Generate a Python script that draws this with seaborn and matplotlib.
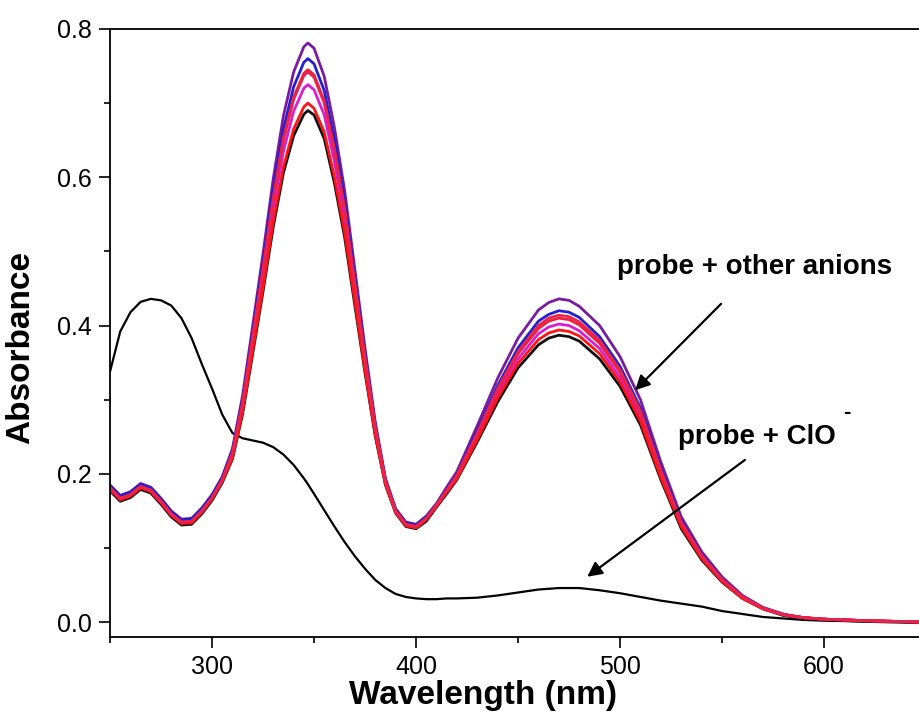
import pandas as pd
import matplotlib
matplotlib.use('Agg')
import matplotlib.pyplot as plt
from matplotlib.ticker import MultipleLocator
import seaborn as sns

# wavelength grid (nm) shared by all spectra
wavelength = [250, 255, 260, 265, 270, 275, 280, 285, 290, 295, 300, 305, 310, 315, 320, 325,
              330, 335, 340, 345, 347, 350, 355, 360, 365, 370, 375, 380, 385, 390, 395, 400,
              405, 410, 415, 420, 430, 440, 450, 460, 465, 470, 475, 480, 490, 500, 510, 520,
              530, 540, 550, 560, 570, 580, 590, 600, 620, 650]

# probe + ClO- (black curve)
abs_clo = [0.338, 0.392, 0.418, 0.432, 0.436, 0.434, 0.427, 0.410, 0.383, 0.348, 0.315, 0.280,
           0.255, 0.248, 0.245, 0.242, 0.236, 0.226, 0.212, 0.194, 0.186, 0.173, 0.151, 0.129,
           0.108, 0.089, 0.072, 0.057, 0.046, 0.038, 0.034, 0.032, 0.031, 0.031, 0.032, 0.032,
           0.033, 0.036, 0.040, 0.044, 0.045, 0.046, 0.046, 0.046, 0.043, 0.039, 0.034, 0.029,
           0.025, 0.021, 0.015, 0.011, 0.007, 0.005, 0.003, 0.002, 0.001, 0.000]

# probe + other anions (one list per spectrum)
abs_purple = [0.185, 0.171, 0.176, 0.187, 0.182, 0.167, 0.150, 0.139, 0.140, 0.154, 0.172, 0.196,
              0.234, 0.306, 0.401, 0.497, 0.598, 0.683, 0.742, 0.776, 0.781, 0.774, 0.736, 0.667,
              0.582, 0.476, 0.369, 0.270, 0.194, 0.153, 0.135, 0.132, 0.143, 0.160, 0.182, 0.203,
              0.265, 0.329, 0.383, 0.421, 0.431, 0.436, 0.434, 0.426, 0.400, 0.358, 0.300, 0.216,
              0.142, 0.095, 0.061, 0.036, 0.020, 0.011, 0.006, 0.004, 0.002, 0.000]
abs_blue = [0.184, 0.170, 0.175, 0.186, 0.181, 0.166, 0.149, 0.138, 0.139, 0.153, 0.171, 0.195,
            0.231, 0.300, 0.392, 0.485, 0.583, 0.665, 0.722, 0.755, 0.760, 0.753, 0.717, 0.650,
            0.567, 0.464, 0.362, 0.266, 0.192, 0.152, 0.134, 0.131, 0.142, 0.159, 0.179, 0.199,
            0.258, 0.319, 0.370, 0.406, 0.415, 0.420, 0.418, 0.411, 0.385, 0.345, 0.289, 0.208,
            0.137, 0.091, 0.059, 0.034, 0.019, 0.010, 0.006, 0.004, 0.002, 0.000]
abs_black = [0.177, 0.163, 0.168, 0.179, 0.174, 0.159, 0.142, 0.131, 0.132, 0.146, 0.164, 0.188,
             0.220, 0.281, 0.363, 0.446, 0.533, 0.606, 0.656, 0.685, 0.690, 0.684, 0.652, 0.592,
             0.519, 0.427, 0.336, 0.251, 0.185, 0.147, 0.129, 0.126, 0.136, 0.155, 0.173, 0.192,
             0.243, 0.297, 0.343, 0.374, 0.383, 0.387, 0.385, 0.379, 0.355, 0.318, 0.266, 0.192,
             0.126, 0.084, 0.054, 0.032, 0.018, 0.009, 0.005, 0.003, 0.001, -0.001]
abs_magenta = [0.180, 0.166, 0.171, 0.182, 0.177, 0.162, 0.145, 0.134, 0.135, 0.149, 0.167, 0.191,
               0.225, 0.290, 0.378, 0.465, 0.558, 0.635, 0.689, 0.720, 0.725, 0.718, 0.684, 0.621,
               0.543, 0.446, 0.349, 0.258, 0.188, 0.149, 0.131, 0.128, 0.139, 0.157, 0.176, 0.195,
               0.250, 0.307, 0.355, 0.389, 0.398, 0.402, 0.400, 0.393, 0.369, 0.330, 0.277, 0.199,
               0.131, 0.087, 0.056, 0.033, 0.018, 0.010, 0.006, 0.004, 0.002, 0.000]
abs_red_low = [0.179, 0.165, 0.170, 0.181, 0.176, 0.161, 0.144, 0.133, 0.134, 0.148, 0.166, 0.190,
               0.221, 0.284, 0.367, 0.451, 0.540, 0.614, 0.665, 0.695, 0.700, 0.693, 0.661, 0.600,
               0.526, 0.433, 0.339, 0.253, 0.186, 0.148, 0.130, 0.127, 0.138, 0.156, 0.175, 0.193,
               0.246, 0.302, 0.349, 0.381, 0.390, 0.394, 0.392, 0.386, 0.362, 0.324, 0.271, 0.195,
               0.129, 0.086, 0.055, 0.032, 0.018, 0.010, 0.006, 0.004, 0.002, 0.000]
abs_red = [0.181, 0.167, 0.172, 0.183, 0.178, 0.163, 0.146, 0.135, 0.136, 0.150, 0.168, 0.192,
           0.228, 0.296, 0.386, 0.477, 0.572, 0.653, 0.708, 0.740, 0.745, 0.738, 0.703, 0.638,
           0.557, 0.457, 0.356, 0.263, 0.190, 0.150, 0.132, 0.129, 0.140, 0.158, 0.177, 0.197,
           0.253, 0.312, 0.362, 0.396, 0.406, 0.410, 0.408, 0.401, 0.376, 0.337, 0.282, 0.203,
           0.134, 0.089, 0.057, 0.034, 0.019, 0.010, 0.006, 0.004, 0.002, 0.000]
abs_crimson = [0.181, 0.167, 0.172, 0.183, 0.178, 0.163, 0.146, 0.135, 0.136, 0.150, 0.168, 0.192,
               0.228, 0.295, 0.385, 0.475, 0.570, 0.650, 0.705, 0.737, 0.742, 0.735, 0.700, 0.635,
               0.555, 0.455, 0.355, 0.262, 0.190, 0.150, 0.132, 0.129, 0.140, 0.158, 0.178, 0.198,
               0.255, 0.315, 0.365, 0.400, 0.410, 0.414, 0.412, 0.405, 0.380, 0.340, 0.285, 0.205,
               0.135, 0.090, 0.058, 0.034, 0.019, 0.010, 0.006, 0.004, 0.002, 0.000]

anion_spectra = {
    'purple': abs_purple,
    'blue': abs_blue,
    'black': abs_black,
    'magenta': abs_magenta,
    'red_low': abs_red_low,
    'red': abs_red,
    'crimson': abs_crimson,
}
anion_colors = {
    'purple': '#7a1a9e',
    'blue': '#2020d0',
    'black': '#111111',
    'magenta': '#d81ed0',
    'red_low': '#ff1414',
    'red': '#f01e3c',
    'crimson': '#e8244c',
}

# long table for seaborn
rows = []
for name, values in anion_spectra.items():
    for w, a in zip(wavelength, values):
        rows.append({'sample': name, 'wavelength': w, 'absorbance': a})
df_anions = pd.DataFrame(rows)
df_clo = pd.DataFrame({'wavelength': wavelength, 'absorbance': abs_clo})

sns.set_style('ticks')
plt.rcParams['font.family'] = ['Liberation Sans', 'DejaVu Sans']
plt.rcParams['text.color'] = 'black'
plt.rcParams['axes.labelcolor'] = 'black'
plt.rcParams['axes.edgecolor'] = 'black'
plt.rcParams['xtick.color'] = 'black'
plt.rcParams['ytick.color'] = 'black'

fig = plt.figure(figsize=(9.2, 7.17), dpi=100)
ax = fig.add_axes([0.1196, 0.1116, 0.887, 0.848])

sns.lineplot(data=df_clo, x='wavelength', y='absorbance', color='black',
             linewidth=1.6, ax=ax, estimator=None, sort=False)
sns.lineplot(data=df_anions, x='wavelength', y='absorbance', hue='sample',
             hue_order=list(anion_spectra.keys()), palette=anion_colors,
             linewidth=2.0, ax=ax, estimator=None, sort=False, legend=False)

ax.set_xlim(250, 650)
ax.set_ylim(-0.02, 0.8)
ax.xaxis.set_major_locator(MultipleLocator(100))
ax.xaxis.set_minor_locator(MultipleLocator(50))
ax.yaxis.set_major_locator(MultipleLocator(0.2))
ax.yaxis.set_minor_locator(MultipleLocator(0.1))
ax.tick_params(which='major', direction='out', length=8, width=1.2, labelsize=18, pad=5)
ax.tick_params(which='minor', direction='out', length=4, width=1.2)
for side in ['left', 'bottom', 'top', 'right']:
    ax.spines[side].set_linewidth(1.3)

ax.set_xlabel('Wavelength (nm)', fontsize=24, fontweight='bold')
ax.set_ylabel('Absorbance', fontsize=24, fontweight='bold')
ax.xaxis.set_label_coords(0.457, -0.07)
ax.yaxis.set_label_coords(-0.09, 0.476)

# annotations
ax.text(498.5, 0.479, 'probe + other anions', fontsize=20, fontweight='bold', va='center')
ax.annotate('', xy=(506.4, 0.310), xytext=(550.5, 0.432),
            arrowprops=dict(arrowstyle='-|>', color='black', lw=1.6, mutation_scale=22))
ax.text(528.4, 0.250, 'probe + ClO', fontsize=20, fontweight='bold', va='center')
ax.text(609.5, 0.283, '-', fontsize=16, fontweight='bold', va='center')
ax.annotate('', xy=(482.8, 0.059), xytext=(562.3, 0.221),
            arrowprops=dict(arrowstyle='-|>', color='black', lw=1.6, mutation_scale=22))

fig.savefig('out.png', dpi=100)
